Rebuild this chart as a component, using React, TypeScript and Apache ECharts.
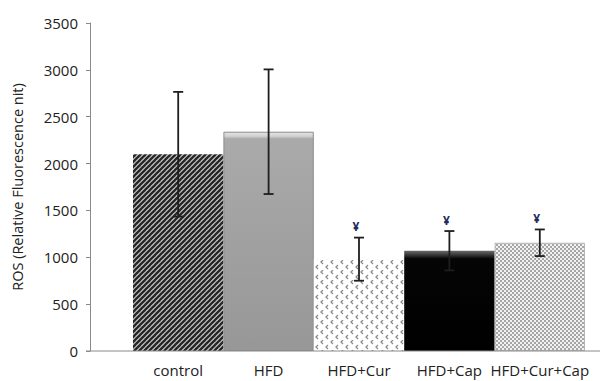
import React, { useEffect, useRef } from "react";
import * as echarts from "echarts";

const categories = ["control", "HFD", "HFD+Cur", "HFD+Cap", "HFD+Cur+Cap"];
const means = [2100, 2340, 980, 1070, 1155];
const errors = [665, 665, 230, 210, 142];
const marks = ["", "", "¥", "¥", "¥"];
const yTicks = { min: 0, max: 3500, interval: 500 };

const FONT = "'Open Sans', 'Noto Sans', sans-serif";

function makeCanvas(w: number, h: number, draw: (ctx: CanvasRenderingContext2D) => void) {
  const c = document.createElement("canvas");
  c.width = w;
  c.height = h;
  const ctx = c.getContext("2d") as CanvasRenderingContext2D;
  draw(ctx);
  return c;
}

function stripePattern() {
  return makeCanvas(5, 5, (ctx) => {
    ctx.fillStyle = "#d0d0d0";
    ctx.fillRect(0, 0, 5, 5);
    ctx.strokeStyle = "#262626";
    ctx.lineWidth = 2.3;
    for (let k = -1; k <= 1; k++) {
      ctx.beginPath();
      ctx.moveTo(k * 5 - 1, 6);
      ctx.lineTo(k * 5 + 6, -1);
      ctx.stroke();
    }
  });
}

function chevronPattern() {
  return makeCanvas(10, 10, (ctx) => {
    ctx.fillStyle = "#ffffff";
    ctx.fillRect(0, 0, 10, 10);
    ctx.strokeStyle = "#8c8c8c";
    ctx.lineWidth = 1.3;
    const draw = (x: number, y: number) => {
      ctx.beginPath();
      ctx.moveTo(x + 2, y);
      ctx.lineTo(x, y + 2);
      ctx.lineTo(x + 2, y + 4);
      ctx.stroke();
    };
    draw(1, 0);
    draw(6, 5);
  });
}

function checkerPattern() {
  return makeCanvas(4, 4, (ctx) => {
    ctx.fillStyle = "#f2f2f2";
    ctx.fillRect(0, 0, 4, 4);
    ctx.fillStyle = "#a6a6a6";
    ctx.fillRect(0, 0, 2, 2);
    ctx.fillRect(2, 2, 2, 2);
  });
}

export default function App() {
  const ref = useRef<HTMLDivElement>(null);

  useEffect(() => {
    if (!ref.current) return;
    const chart = echarts.init(ref.current, null, { renderer: "svg" });

    const barStyles = [
      { color: { image: stripePattern(), repeat: "repeat" } },
      {
        color: {
          type: "linear", x: 0, y: 0, x2: 0, y2: 1,
          colorStops: [
            { offset: 0, color: "#e4e4e4" },
            { offset: 0.018, color: "#d2d2d2" },
            { offset: 0.03, color: "#aaaaaa" },
            { offset: 1, color: "#979797" },
          ],
        },
        borderColor: "#8c8c8c",
        borderWidth: 1,
      },
      { color: { image: chevronPattern(), repeat: "repeat" } },
      {
        color: {
          type: "linear", x: 0, y: 0, x2: 0, y2: 1,
          colorStops: [
            { offset: 0, color: "#6a6a6a" },
            { offset: 0.04, color: "#3a3a3a" },
            { offset: 0.08, color: "#050505" },
            { offset: 1, color: "#000000" },
          ],
        },
      },
      { color: { image: checkerPattern(), repeat: "repeat" }, borderColor: "#b5b5b5", borderWidth: 1 },
    ];

    const option: any = {
      animation: false,
      grid: { left: 133, right: 15, top: 23, bottom: 30 },
      xAxis: {
        type: "category",
        data: categories,
        axisLine: { show: false },
        axisTick: { show: false },
        axisLabel: { interval: 0, color: "#222", fontSize: 15, fontFamily: FONT, margin: 11 },
      },
      yAxis: {
        type: "value",
        min: yTicks.min,
        max: yTicks.max,
        interval: yTicks.interval,
        offset: 43,
        name: "ROS (Relative Fluorescence nit)",
        nameLocation: "middle",
        nameGap: 65,
        nameTextStyle: { color: "#222", fontSize: 14.5, fontFamily: FONT },
        axisLine: { show: true, lineStyle: { color: "#8a8a8a", width: 1 } },
        axisTick: { show: true, length: 4, lineStyle: { color: "#8a8a8a" } },
        axisLabel: {
          color: "#222",
          fontSize: 15,
          fontFamily: FONT,
          margin: 12,
          formatter: (v: number) => String(v),
        },
        splitLine: { show: false },
      },
      graphic: [
        {
          type: "line",
          shape: { x1: 86, y1: 351, x2: 600, y2: 351 },
          style: { stroke: "#8a8a8a", lineWidth: 1 },
          z: 10,
        },
      ],
      series: [
        {
          type: "bar",
          barCategoryGap: "0%",
          data: means.map((v, i) => ({ value: v, itemStyle: barStyles[i] })),
          z: 2,
        },
        {
          type: "custom",
          z: 5,
          data: means.map((v, i) => [i, v, errors[i]]),
          renderItem: (params: any, api: any) => {
            const i = api.value(0);
            const m = api.value(1);
            const e = api.value(2);
            const top = api.coord([i, m + e]);
            const bot = api.coord([i, m - e]);
            const x = top[0];
            const hw = 5;
            const stroke = { stroke: "#1e1e1e", lineWidth: 1.8 };
            const children: any[] = [
              { type: "line", shape: { x1: x, y1: top[1], x2: x, y2: bot[1] }, style: stroke },
              { type: "line", shape: { x1: x - hw, y1: top[1], x2: x + hw, y2: top[1] }, style: stroke },
              { type: "line", shape: { x1: x - hw, y1: bot[1], x2: x + hw, y2: bot[1] }, style: stroke },
            ];
            const mk = marks[params.dataIndex];
            if (mk) {
              children.push({
                type: "text",
                x: x - 3,
                y: top[1] - 5,
                style: {
                  text: mk,
                  fill: "#1f2d5c",
                  fontSize: 12,
                  fontWeight: "bold",
                  fontFamily: FONT,
                  align: "center",
                  verticalAlign: "bottom",
                },
              });
            }
            return { type: "group", children };
          },
        },
      ],
    };

    chart.setOption(option);
    return () => chart.dispose();
  }, []);

  return (
    <div
      ref={ref}
      style={{ position: "fixed", left: 0, top: 0, width: 600, height: 381, background: "#fff" }}
    />
  );
}
